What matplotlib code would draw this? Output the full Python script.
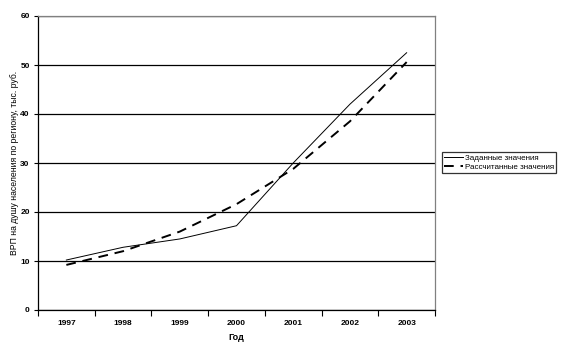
import matplotlib
matplotlib.use("Agg")
import matplotlib.pyplot as plt

years = ["1997", "1998", "1999", "2000", "2001", "2002", "2003"]
given = [10.2, 12.8, 14.5, 17.2, 30.0, 42.0, 52.5]
calculated = [9.2, 12.0, 16.0, 21.6, 28.8, 38.5, 50.6]

plt.rcParams['font.family'] = ['Liberation Sans', 'DejaVu Sans']

fig = plt.figure(figsize=(5.64, 3.51), dpi=100)
ax = fig.add_axes([38 / 564, 41 / 351, 397 / 564, 294 / 351])

x = list(range(len(years)))
ax.plot(x, given, color="black", linewidth=0.7, label="Заданные значения")
ax.plot(x, calculated, color="black", linewidth=1.4, linestyle=(0, (5, 3.5)),
        label="Рассчитанные значения")

ax.set_xlim(-0.5, len(years) - 0.5)
ax.set_ylim(0, 60)
ax.set_yticks(range(0, 61, 10))
ax.set_xticks(x)
ax.set_xticklabels(years)
ax.set_xticks([i - 0.5 for i in range(len(years) + 1)], minor=True)
ax.tick_params(axis="x", which="major", length=0, pad=7, labelsize=6)
ax.tick_params(axis="x", which="minor", length=4, width=0.8, direction="out")
ax.tick_params(axis="y", length=3, width=0.8, labelsize=6, pad=3)
for lab in ax.get_xticklabels() + ax.get_yticklabels():
    lab.set_fontweight("bold")

ax.grid(axis="y", color="black", linewidth=0.9)
ax.set_axisbelow(True)
for side in ["top", "right"]:
    ax.spines[side].set_color("gray")
    ax.spines[side].set_linewidth(0.9)
for side in ["left", "bottom"]:
    ax.spines[side].set_color("black")
    ax.spines[side].set_linewidth(0.9)

ax.set_xlabel("Год", fontsize=6.5, fontweight="bold")
ax.xaxis.set_label_coords(0.5, -23 / 294)
ax.set_ylabel("ВРП на душу населения по региону, тыс. руб.", fontsize=6.2)
ax.yaxis.set_label_coords(-19 / 397, 0.5)

leg = fig.legend(loc="upper left", bbox_to_anchor=(442 / 564, 1 - 152 / 351),
                 fontsize=5.8, frameon=True, fancybox=False, handlelength=2.3,
                 borderpad=0.3, labelspacing=0.15, handletextpad=0.2, borderaxespad=0)
leg.get_frame().set_edgecolor("black")
leg.get_frame().set_linewidth(0.9)

fig.savefig("out.png", dpi=100)
